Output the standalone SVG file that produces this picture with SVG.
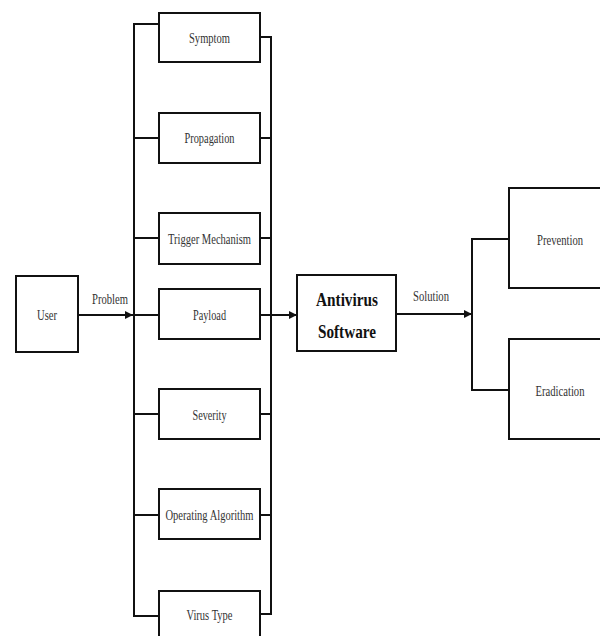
<svg xmlns="http://www.w3.org/2000/svg" width="600" height="636" viewBox="0 0 600 636">
<style>
.box{fill:#fff;stroke:#111;stroke-width:2}
.ln{fill:none;stroke:#111;stroke-width:2}
.t{font-family:"Liberation Serif","Times New Roman",serif;font-size:15px;fill:#333;text-anchor:middle}
.b{font-family:"Liberation Serif","Times New Roman",serif;font-size:19px;font-weight:bold;fill:#111;text-anchor:middle}
</style>
<defs>
<marker id="ah" viewBox="0 0 10 10" refX="10" refY="5" markerWidth="8" markerHeight="8" markerUnits="userSpaceOnUse" orient="auto">
<path d="M0,0 L10,5 L0,10 z" fill="#111"/>
</marker>
</defs>
<g id="connectors">
<polyline class="ln" points="159,24 134,24 134,616 159,616"/>
<polyline class="ln" points="260,37 271,37 271,614 260,614"/>
<line class="ln" x1="134" y1="138" x2="159" y2="138"/>
<line class="ln" x1="260" y1="138" x2="271" y2="138"/>
<line class="ln" x1="134" y1="238" x2="159" y2="238"/>
<line class="ln" x1="260" y1="238" x2="271" y2="238"/>
<line class="ln" x1="134" y1="315" x2="159" y2="315"/>
<line class="ln" x1="134" y1="414" x2="159" y2="414"/>
<line class="ln" x1="260" y1="414" x2="271" y2="414"/>
<line class="ln" x1="134" y1="515" x2="159" y2="515"/>
<line class="ln" x1="260" y1="515" x2="271" y2="515"/>
<line class="ln" x1="78" y1="315" x2="133" y2="315" marker-end="url(#ah)"/>
<line class="ln" x1="260" y1="315" x2="297" y2="315" marker-end="url(#ah)"/>
<line class="ln" x1="396" y1="314" x2="472" y2="314" marker-end="url(#ah)"/>
<polyline class="ln" points="509,239 472,239 472,390 509,390"/>
<text class="t" x="110" y="304" textLength="36" lengthAdjust="spacingAndGlyphs">Problem</text>
<text class="t" x="431" y="301" textLength="36" lengthAdjust="spacingAndGlyphs">Solution</text>
</g>
<g id="user"><rect class="box" x="16" y="276" width="62" height="76"/><text class="t" x="47" y="320" textLength="20" lengthAdjust="spacingAndGlyphs">User</text></g>
<g id="symptom"><rect class="box" x="159" y="13" width="101" height="49"/><text class="t" x="209.5" y="43" textLength="41" lengthAdjust="spacingAndGlyphs">Symptom</text></g>
<g id="propagation"><rect class="box" x="159" y="113" width="101" height="50"/><text class="t" x="209.5" y="143" textLength="50" lengthAdjust="spacingAndGlyphs">Propagation</text></g>
<g id="trigger"><rect class="box" x="159" y="213" width="101" height="51"/><text class="t" x="209.5" y="244" textLength="83" lengthAdjust="spacingAndGlyphs">Trigger Mechanism</text></g>
<g id="payload"><rect class="box" x="159" y="289" width="101" height="50"/><text class="t" x="209.5" y="320" textLength="33" lengthAdjust="spacingAndGlyphs">Payload</text></g>
<g id="severity"><rect class="box" x="159" y="389" width="101" height="50"/><text class="t" x="209.5" y="420" textLength="34" lengthAdjust="spacingAndGlyphs">Severity</text></g>
<g id="operating"><rect class="box" x="159" y="489" width="101" height="50"/><text class="t" x="209.5" y="520" textLength="88" lengthAdjust="spacingAndGlyphs">Operating Algorithm</text></g>
<g id="virustype"><rect class="box" x="159" y="591" width="101" height="52"/><text class="t" x="209.5" y="620" textLength="46" lengthAdjust="spacingAndGlyphs">Virus Type</text></g>
<g id="antivirus"><rect class="box" x="297" y="275" width="99" height="76"/><text class="b" x="347" y="306" textLength="62" lengthAdjust="spacingAndGlyphs">Antivirus</text><text class="b" x="347" y="338" textLength="58" lengthAdjust="spacingAndGlyphs">Software</text></g>
<g id="prevention"><rect class="box" x="509" y="188" width="100" height="100"/><text class="t" x="560" y="245" textLength="46" lengthAdjust="spacingAndGlyphs">Prevention</text></g>
<g id="eradication"><rect class="box" x="509" y="339" width="100" height="100"/><text class="t" x="560" y="396" textLength="49" lengthAdjust="spacingAndGlyphs">Eradication</text></g>
</svg>
